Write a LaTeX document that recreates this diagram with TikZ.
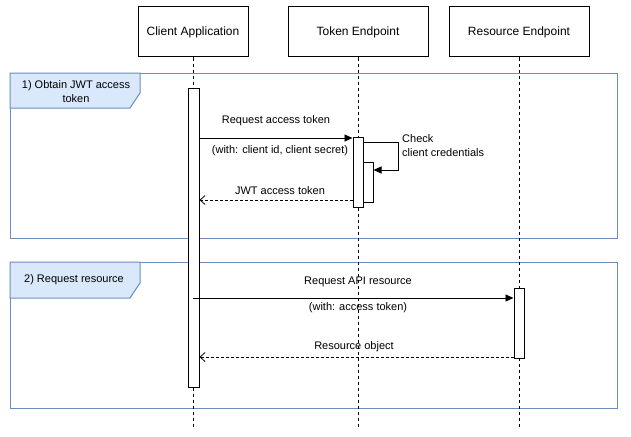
\documentclass[tikz,border=0pt]{standalone}
\usepackage{fontspec}
\setmainfont{Liberation Sans}
\usetikzlibrary{arrows.meta}
\definecolor{frameblue}{HTML}{6C8EBF}
\definecolor{tabfill}{HTML}{DAE8FC}
\begin{document}
\begin{tikzpicture}[x=1pt,y=-1pt,
  header/.style={draw=black, line width=1pt, fill=white, minimum height=50pt, inner sep=0pt, font=\fontsize{12}{14}\selectfont},
  act/.style={draw=black, line width=1pt, fill=white, inner sep=0pt},
  lifeline/.style={line width=0.9pt, dash pattern=on 3pt off 3pt},
  frameline/.style={draw=frameblue, line width=1pt},
  msg/.style={line width=0.9pt, -{Triangle[length=8pt,width=7pt]}},
  ret/.style={line width=0.8pt, dash pattern=on 3pt off 2pt, -{Straight Barb[length=5pt,width=9pt,line width=0.8pt]}},
  lbl/.style={font=\fontsize{11}{14}\selectfont, inner sep=0pt, align=center}
]
\useasboundingbox (0,0) rectangle (631,436);

% frames
\draw[frameline] (10,73) rectangle (617,238);
\draw[frameline, fill=tabfill] (10,73) -- (140,73) -- (140,93) -- (130,108) -- (10,108) -- cycle;
\node[lbl] (tab1) at (76,91.5) {1) Obtain JWT access\\token};
\draw[frameline] (10,262) rectangle (617,408);
\draw[frameline, fill=tabfill] (10,262) -- (140,262) -- (140,283) -- (130,298) -- (10,298) -- cycle;
\node[lbl] (tab2) at (74,280) {2) Request resource};

% headers
\node[header, minimum width=110pt] (client) at (193,32) {Client Application};
\node[header, minimum width=140pt] (token) at (358,32) {Token Endpoint};
\node[header, minimum width=140pt] (res) at (519,32) {Resource Endpoint};

% lifelines
\coordinate (cend) at (193,427);
\coordinate (tend) at (358,427);
\coordinate (rend) at (519,427);
\draw[lifeline] (client) -- (cend);
\draw[lifeline] (token) -- (tend);
\draw[lifeline] (res) -- (rend);

% activations
\node[act, minimum width=11pt, minimum height=299pt] (ca) at (193.5,237.5) {};
\node[act, minimum width=10pt, minimum height=70pt] (ta) at (358,172) {};
\node[act, minimum width=10pt, minimum height=40pt] (na) at (368,182) {};
\node[act, minimum width=10pt, minimum height=70pt] (ra) at (519,323) {};

% rows
\coordinate (r1) at (0,138);
\coordinate (r2) at (0,142);
\coordinate (r3) at (0,170);
\coordinate (r4) at (0,200);
\coordinate (r5) at (0,298);
\coordinate (r6) at (0,357);

% messages
\draw[msg] (ca.east |- r1) -- (ta.west |- r1);
\node[lbl] (l1a) at (276,121) {Request access token};
\node[lbl] (l1b) at (280,150.5) {(with: client id, client secret)};

\draw[msg] (ta.east |- r2) -- ++(35,0) |- (na.east |- r3);
\node[lbl, anchor=west, align=left] (l2) at (402,146) {Check\\client credentials};

\draw[ret] (ta.west |- r4) -- (ca.east |- r4);
\node[lbl] (l3) at (280,191) {JWT access token};

\draw[msg] (client |- r5) -- (ra.west |- r5);
\node[lbl] (l4a) at (358,282) {Request API resource};
\node[lbl] (l4b) at (358,308) {(with: access token)};

\draw[ret] (ra.west |- r6) -- (ca.east |- r6);
\node[lbl] (l5) at (354,347) {Resource object};
\end{tikzpicture}
\end{document}
